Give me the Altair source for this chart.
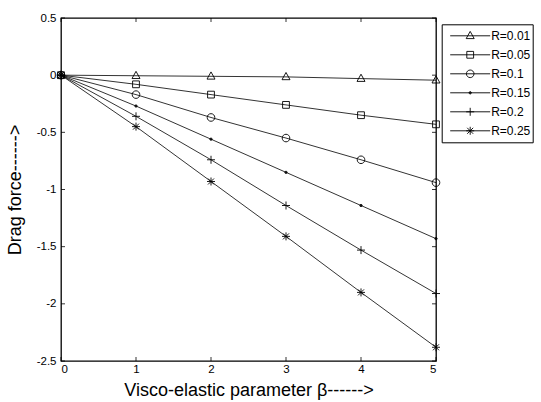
import altair as alt
import pandas as pd

# ---- data ----
beta = [0, 1, 2, 3, 4, 5]
r_labels = ["R=0.01", "R=0.05", "R=0.1", "R=0.15", "R=0.2", "R=0.25"]
drag_r001 = [0, -0.005, -0.01, -0.015, -0.03, -0.044]
drag_r005 = [0, -0.08, -0.17, -0.26, -0.35, -0.43]
drag_r010 = [0, -0.17, -0.37, -0.55, -0.74, -0.94]
drag_r015 = [0, -0.27, -0.56, -0.85, -1.14, -1.43]
drag_r020 = [0, -0.36, -0.74, -1.14, -1.53, -1.91]
drag_r025 = [0, -0.45, -0.93, -1.41, -1.90, -2.38]
x_ticks = [0, 1, 2, 3, 4, 5]
y_ticks = [0.5, 0, -0.5, -1, -1.5, -2, -2.5]

series = [drag_r001, drag_r005, drag_r010, drag_r015, drag_r020, drag_r025]
rows = []
for lab, vals in zip(r_labels, series):
    for b, v in zip(beta, vals):
        rows.append({"beta": b, "drag": v, "R": lab})
df = pd.DataFrame(rows)
xt = pd.DataFrame({"beta": x_ticks})
yt = pd.DataFrame({"drag": y_ticks})

W, H = 375, 343
FONT = "Liberation Sans"
TICK = 4

tri = "M0,-1.1L1,0.7L-1,0.7Z"
sq = "M-0.85,-0.85L0.85,-0.85L0.85,0.85L-0.85,0.85Z"
circ = "M-0.95,0A0.95,0.95 0 1,0 0.95,0A0.95,0.95 0 1,0 -0.95,0"
dot = "M-0.3,0A0.3,0.3 0 1,0 0.3,0A0.3,0.3 0 1,0 -0.3,0M-0.15,0A0.15,0.15 0 1,0 0.15,0A0.15,0.15 0 1,0 -0.15,0"
plus = "M-1,0L1,0M0,-1L0,1"
star = "M-1,0L1,0M0,-1L0,1M-0.75,-0.75L0.75,0.75M-0.75,0.75L0.75,-0.75"
marker_paths = [tri, sq, circ, dot, plus, star]
legend_paths = ["M-5,0L5,0" + p for p in marker_paths]

x_axis = alt.Axis(values=x_ticks, ticks=False, domain=False, grid=False,
                  labelFont=FONT, labelFontSize=11.5, labelColor="black",
                  labelPadding=2, labelExpr="datum.value + ''",
                  title="Visco-elastic parameter β------>", titleFont=FONT,
                  titleFontSize=18, titleFontWeight="normal", titleColor="black",
                  titlePadding=7)
y_axis = alt.Axis(values=y_ticks, ticks=False, domain=False, grid=False,
                  labelFont=FONT, labelFontSize=11.5, labelColor="black",
                  labelPadding=5, labelExpr="datum.value + ''",
                  title="Drag force------>", titleFont=FONT,
                  titleFontSize=18, titleFontWeight="normal", titleColor="black",
                  titlePadding=12)
xs = alt.Scale(domain=[0, 5], nice=False, zero=False)
ys = alt.Scale(domain=[-2.5, 0.5], nice=False, zero=False)

X = alt.X("beta:Q", scale=xs, axis=x_axis)
Y = alt.Y("drag:Q", scale=ys, axis=y_axis)

lines = alt.Chart(df).mark_line(color="black", strokeWidth=0.8).encode(
    x=X, y=Y, detail="R:N")

points = alt.Chart(df).mark_point(filled=False, size=64, color="black",
                                  strokeWidth=0.9, opacity=1).encode(
    x=X, y=Y,
    shape=alt.Shape("R:N", scale=alt.Scale(domain=r_labels, range=marker_paths),
                    legend=None))

legend_layer = alt.Chart(df).mark_point(filled=False, size=64, color="black",
                                        opacity=0).encode(
    x=X, y=Y,
    shape=alt.Shape("R:N", scale=alt.Scale(domain=r_labels, range=legend_paths),
                    legend=alt.Legend(orient="none", legendX=380.7, legendY=6.3,
                                      title=None, padding=2, symbolOffset=20.5,
                                      labelOffset=15, symbolSize=64,
                                      symbolStrokeColor="black", symbolStrokeWidth=0.9,
                                      symbolFillColor="white", symbolOpacity=1,
                                      strokeColor="black", fillColor="white",
                                      cornerRadius=0, labelFont=FONT, labelFontSize=12,
                                      labelColor="black", clipHeight=19, rowPadding=0,
                                      labelExpr="datum.label + '\u00a0\u00a0\u00a0\u00a0\u00a0\u00a0\u00a0\u00a0\u00a0\u00a0'")))

tick_bottom = alt.Chart(xt).mark_rule(color="black", strokeWidth=0.8).encode(
    x=X, y=alt.value(H), y2=alt.value(H - TICK))
tick_top = alt.Chart(xt).mark_rule(color="black", strokeWidth=0.8).encode(
    x=X, y=alt.value(0), y2=alt.value(TICK))
tick_left = alt.Chart(yt).mark_rule(color="black", strokeWidth=0.8).encode(
    y=Y, x=alt.value(0), x2=alt.value(TICK))
tick_right = alt.Chart(yt).mark_rule(color="black", strokeWidth=0.8).encode(
    y=Y, x=alt.value(W), x2=alt.value(W - TICK))

chart = alt.layer(
    tick_bottom, tick_top, tick_left, tick_right, lines, points, legend_layer
).resolve_scale(shape="independent").properties(
    width=W, height=H,
    autosize=alt.AutoSizeParams(type="none"),
    padding={"left": 61, "top": 18, "right": 105, "bottom": 41},
    background="white",
).configure_view(stroke="black", strokeWidth=1.3)

chart.save("out.html", embed_options={"renderer": "svg", "actions": False})
